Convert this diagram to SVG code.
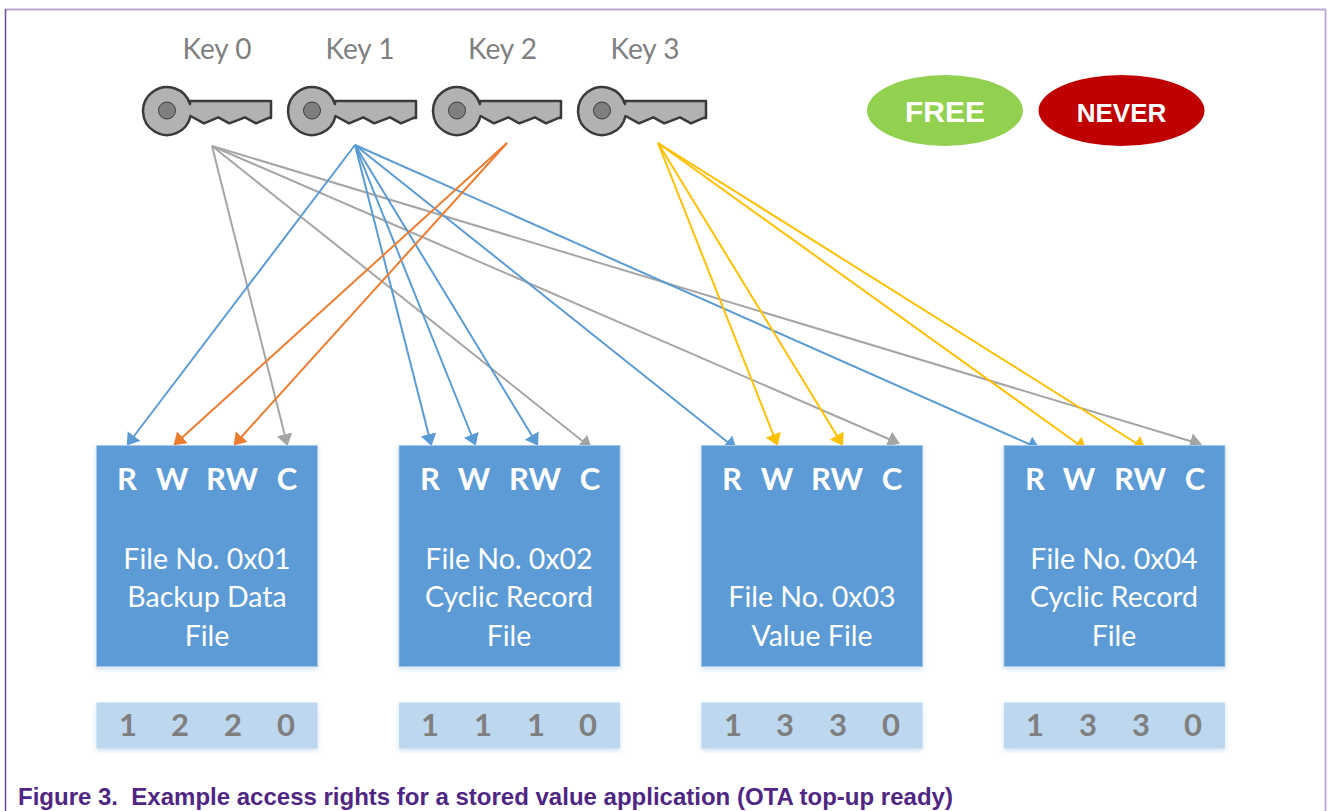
<svg xmlns="http://www.w3.org/2000/svg" width="1328" height="811" viewBox="0 0 1328 811">
<style>
.cal{font-family:Lato,"Open Sans","Liberation Sans",sans-serif}
.keyl{font-size:28px;fill:#7f7f7f;text-anchor:middle}
.box{fill:#5b9bd5;stroke:#a9c8e8;stroke-width:1}
.rw{font-size:31px;font-weight:700;fill:#fff;text-anchor:middle}
.ft{font-size:28.500px;fill:#fff;text-anchor:middle}
.bar{fill:#bdd7ee}
.dig{font-size:31px;font-weight:700;fill:#7f7f7f;text-anchor:middle}
.cn{fill:none;stroke-width:2}
.g{stroke:#a5a5a5}.b{stroke:#5b9bd5}.o{stroke:#ed7d31}.y{stroke:#ffc000}
.lbl{font-family:"Liberation Sans",Arial,sans-serif;font-weight:700;fill:#fff;text-anchor:middle}
</style>
<defs>
<marker id="ag" markerUnits="userSpaceOnUse" markerWidth="13" markerHeight="16" refX="10" refY="8" orient="auto"><path d="M0 0L12 8L0 16Z" fill="#a5a5a5"/></marker>
<marker id="ab" markerUnits="userSpaceOnUse" markerWidth="13" markerHeight="16" refX="10" refY="8" orient="auto"><path d="M0 0L12 8L0 16Z" fill="#5b9bd5"/></marker>
<marker id="ao" markerUnits="userSpaceOnUse" markerWidth="13" markerHeight="16" refX="10" refY="8" orient="auto"><path d="M0 0L12 8L0 16Z" fill="#ed7d31"/></marker>
<marker id="ay" markerUnits="userSpaceOnUse" markerWidth="13" markerHeight="16" refX="10" refY="8" orient="auto"><path d="M0 0L12 8L0 16Z" fill="#ffc000"/></marker>
<filter id="sh" x="-5%" y="-5%" width="110%" height="115%"><feDropShadow dx="0" dy="2" stdDeviation="2.500" flood-color="#5b9bd5" flood-opacity=".3"/></filter>
<g id="key"><path d="M190 101H271V118L269.300 117.700 256 123.300 245 117.300 229.300 123.300 218.300 117.300 204 123.300 190.500 116A24 24 0 1 1 190 104.100Z" fill="#b2b2b2" stroke="#3a3a3a" stroke-width="2.500" stroke-linejoin="round"/><circle cx="167" cy="110.500" r="8.500" fill="#7f7f7f" stroke="#3a3a3a" stroke-width="1"/></g>
</defs>
<rect width="1328" height="811" fill="#fff"/>
<path id="frame" d="M5 9.500H1325.500V811" fill="none" stroke="#b9a6d3" stroke-width="1.800"/>
<path d="M5.500 9V811" fill="none" stroke="#6a4a9c" stroke-width="1.500"/>

<g id="connectors">
<path class="cn g" marker-end="url(#ag)" d="M212 146L287 444"/>
<path class="cn g" marker-end="url(#ag)" d="M212 146L590 447"/>
<path class="cn g" marker-end="url(#ag)" d="M212 146L898 443"/>
<path class="cn g" marker-end="url(#ag)" d="M212 146L1200 444"/>
<path class="cn b" marker-end="url(#ab)" d="M355 145L128 444"/>
<path class="cn b" marker-end="url(#ab)" d="M355 145L431 444"/>
<path class="cn b" marker-end="url(#ab)" d="M355 145L475 444"/>
<path class="cn b" marker-end="url(#ab)" d="M355 145L537 444"/>
<path class="cn b" marker-end="url(#ab)" d="M355 145L735 448"/>
<path class="cn b" marker-end="url(#ab)" d="M355 145L1038 448"/>
<path class="cn o" marker-end="url(#ao)" d="M507 143L175 444"/>
<path class="cn o" marker-end="url(#ao)" d="M507 143L235 444"/>
<path class="cn y" marker-end="url(#ay)" d="M658 143L777 444"/>
<path class="cn y" marker-end="url(#ay)" d="M658 143L842 444"/>
<path class="cn y" marker-end="url(#ay)" d="M658 143L1085 449"/>
<path class="cn y" marker-end="url(#ay)" d="M658 143L1144 448"/>
</g>

<g id="key0"><text class="cal keyl" x="217" y="58.500">Key 0</text><use href="#key"/></g>
<g id="key1"><text class="cal keyl" x="360" y="58.500">Key 1</text><use href="#key" x="145"/></g>
<g id="key2"><text class="cal keyl" x="502.500" y="58.500">Key 2</text><use href="#key" x="290"/></g>
<g id="key3"><text class="cal keyl" x="645" y="58.500">Key 3</text><use href="#key" x="435"/></g>

<g id="free"><ellipse cx="945" cy="110.500" rx="78" ry="35.500" fill="#92d050"/><text class="lbl" x="945" y="122" font-size="30">FREE</text></g>
<g id="never"><ellipse cx="1121.500" cy="110.500" rx="83" ry="35.500" fill="#c00000"/><text class="lbl" x="1121.500" y="122" font-size="26">NEVER</text></g>

<g id="file1">
<rect class="box" x="96.500" y="445.500" width="221" height="221" filter="url(#sh)"/>
<text class="cal rw" x="127" y="490">R</text><text class="cal rw" x="172" y="490">W</text><text class="cal rw" x="232" y="490">RW</text><text class="cal rw" x="287" y="490">C</text>
<text class="cal ft" x="207" y="569">File No. 0x01</text><text class="cal ft" x="207" y="607">Backup Data</text><text class="cal ft" x="207" y="646">File</text>
</g>
<g id="file2">
<rect class="box" x="399" y="445.500" width="221" height="221" filter="url(#sh)"/>
<text class="cal rw" x="430" y="490">R</text><text class="cal rw" x="474" y="490">W</text><text class="cal rw" x="535" y="490">RW</text><text class="cal rw" x="590" y="490">C</text>
<text class="cal ft" x="509" y="569">File No. 0x02</text><text class="cal ft" x="509" y="607">Cyclic Record</text><text class="cal ft" x="509" y="646">File</text>
</g>
<g id="file3">
<rect class="box" x="701.500" y="445.500" width="221" height="221" filter="url(#sh)"/>
<text class="cal rw" x="732" y="490">R</text><text class="cal rw" x="777" y="490">W</text><text class="cal rw" x="837" y="490">RW</text><text class="cal rw" x="892" y="490">C</text>
<text class="cal ft" x="812" y="607">File No. 0x03</text><text class="cal ft" x="812" y="646">Value File</text>
</g>
<g id="file4">
<rect class="box" x="1004" y="445.500" width="221" height="221" filter="url(#sh)"/>
<text class="cal rw" x="1035" y="490">R</text><text class="cal rw" x="1079" y="490">W</text><text class="cal rw" x="1140" y="490">RW</text><text class="cal rw" x="1195" y="490">C</text>
<text class="cal ft" x="1114" y="569">File No. 0x04</text><text class="cal ft" x="1114" y="607">Cyclic Record</text><text class="cal ft" x="1114" y="646">File</text>
</g>

<g id="rights1"><rect class="bar" x="96.500" y="702.500" width="221" height="46" filter="url(#sh)"/><text class="cal dig" x="128" y="736">1</text><text class="cal dig" x="180" y="736">2</text><text class="cal dig" x="233" y="736">2</text><text class="cal dig" x="286" y="736">0</text></g>
<g id="rights2"><rect class="bar" x="399" y="702.500" width="221" height="46" filter="url(#sh)"/><text class="cal dig" x="430" y="736">1</text><text class="cal dig" x="483" y="736">1</text><text class="cal dig" x="536" y="736">1</text><text class="cal dig" x="588" y="736">0</text></g>
<g id="rights3"><rect class="bar" x="701.500" y="702.500" width="221" height="46" filter="url(#sh)"/><text class="cal dig" x="733" y="736">1</text><text class="cal dig" x="785" y="736">3</text><text class="cal dig" x="838" y="736">3</text><text class="cal dig" x="891" y="736">0</text></g>
<g id="rights4"><rect class="bar" x="1004" y="702.500" width="221" height="46" filter="url(#sh)"/><text class="cal dig" x="1035" y="736">1</text><text class="cal dig" x="1088" y="736">3</text><text class="cal dig" x="1141" y="736">3</text><text class="cal dig" x="1193" y="736">0</text></g>

<text id="caption" x="18" y="805" font-family="'Liberation Sans',Arial,sans-serif" font-size="24" font-weight="700" fill="#4f2683" xml:space="preserve">Figure 3.  Example access rights for a stored value application (OTA top-up ready)</text>
</svg>
